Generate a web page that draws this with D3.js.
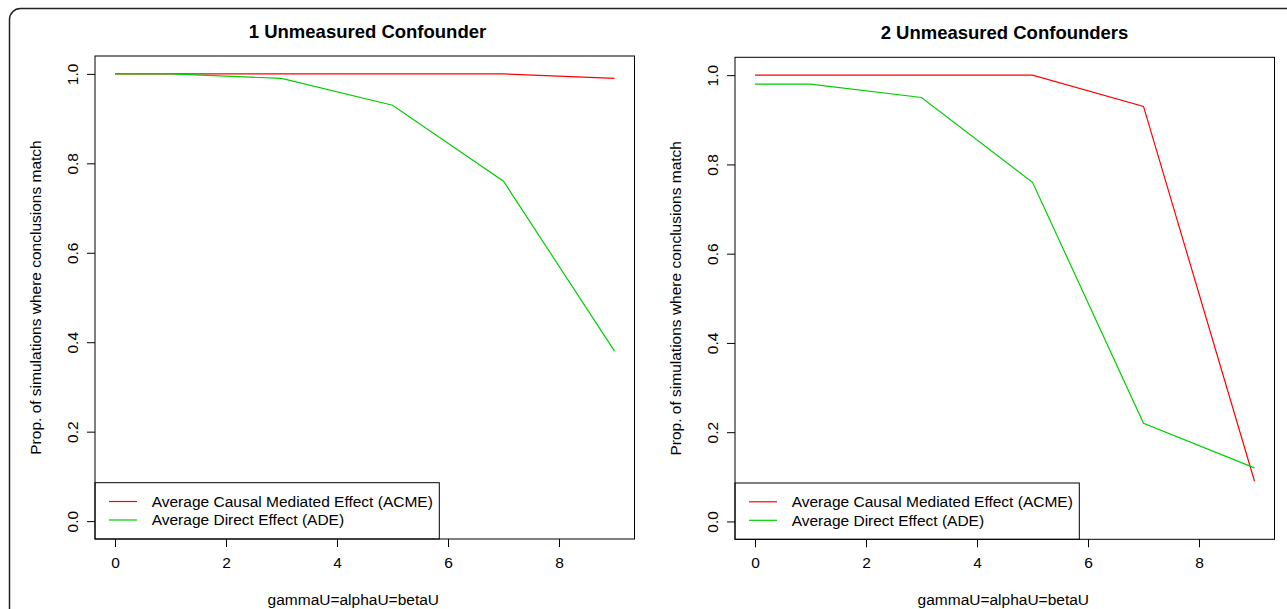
<!DOCTYPE html>
<html>
<head>
<meta charset="utf-8">
<script src="https://cdn.jsdelivr.net/npm/d3@7"></script>
<style>
  html, body { margin: 0; padding: 0; background: #fff; }
  svg { display: block; font-family: "Liberation Sans", Arial, Helvetica, sans-serif; }
</style>
</head>
<body>
<svg id="chart" width="1287" height="609"></svg>
<script>
// ---- data ----
const xValues = [0, 1, 3, 5, 7, 9];
const acmeOne = [1.00, 1.00, 1.00, 1.00, 1.00, 0.99];
const adeOne  = [1.00, 1.00, 0.99, 0.93, 0.76, 0.38];
const acmeTwo = [1.00, 1.00, 1.00, 1.00, 0.93, 0.09];
const adeTwo  = [0.98, 0.98, 0.95, 0.76, 0.22, 0.12];
const xTicks = [0, 2, 4, 6, 8];
const yTicks = [0.0, 0.2, 0.4, 0.6, 0.8, 1.0];
const titles = ["1 Unmeasured Confounder", "2 Unmeasured Confounders"];
const legendLabels = ["Average Causal Mediated Effect (ACME)", "Average Direct Effect (ADE)"];
const xLabel = "gammaU=alphaU=betaU";
const yLabel = "Prop. of simulations where conclusions match";
const seriesColors = ["#ff0000", "#00cd00"];

const FS = 15.5;
const svg = d3.select("#chart");

// outer rounded frame
svg.append("rect")
  .attr("x", 9.5).attr("y", 8.5)
  .attr("width", 1300).attr("height", 640)
  .attr("rx", 11).attr("ry", 11)
  .attr("fill", "none").attr("stroke", "#222").attr("stroke-width", 1.5);

const panels = [
  { x0: 95, x1: 634.5, y0: 56, y1: 539, title: titles[0], titleX: 367.5, titleY: 38, xlabX: 353.3,
    series: [acmeOne, adeOne] },
  { x0: 735, x1: 1274.5, y0: 57.3, y1: 539.3, title: titles[1], titleX: 1004.5, titleY: 39, xlabX: 1003.3,
    series: [acmeTwo, adeTwo] }
];

const fmt = d3.format(".1f");

panels.forEach(p => {
  const g = svg.append("g");
  const x = d3.scaleLinear().domain([-0.36, 9.36]).range([p.x0, p.x1]);
  const y = d3.scaleLinear().domain([-0.04, 1.04]).range([p.y1, p.y0]);

  // series lines
  const line = d3.line().x((d, i) => x(xValues[i])).y(d => y(d));
  p.series.forEach((vals, k) => {
    g.append("path")
      .datum(vals)
      .attr("d", line)
      .attr("fill", "none")
      .attr("stroke", seriesColors[k])
      .attr("stroke-width", 1.2);
  });

  // y axis
  const ya = g.append("g")
    .attr("transform", `translate(${p.x0},0)`)
    .call(d3.axisLeft(y).tickValues(yTicks).tickFormat(fmt).tickSize(8).tickSizeOuter(0));
  ya.select(".domain").remove();
  ya.selectAll(".tick line").attr("stroke", "#000");
  ya.selectAll(".tick text")
    .attr("x", 0).attr("y", -17.5).attr("dy", 0)
    .attr("transform", "rotate(-90)")
    .attr("text-anchor", "middle")
    .attr("fill", "#000")
    .style("font-size", FS + "px")
    .style("font-family", "'Liberation Sans', Arial, sans-serif");

  // x axis
  const xa = g.append("g")
    .attr("transform", `translate(0,${p.y1})`)
    .call(d3.axisBottom(x).tickValues(xTicks).tickFormat(d3.format("d")).tickSize(8).tickSizeOuter(0));
  xa.select(".domain").remove();
  xa.selectAll(".tick line").attr("stroke", "#000");
  xa.selectAll(".tick text")
    .attr("y", 29).attr("dy", 0)
    .attr("fill", "#000")
    .style("font-size", FS + "px")
    .style("font-family", "'Liberation Sans', Arial, sans-serif");

  // legend
  const lg = g.append("g");
  lg.append("rect")
    .attr("x", p.x0).attr("y", p.y1 - 56.3)
    .attr("width", 344.3).attr("height", 56.3)
    .attr("fill", "#fff").attr("stroke", "#000").attr("stroke-width", 1);
  legendLabels.forEach((lab, k) => {
    const cy = p.y1 - 37.5 + k * 18.5;
    lg.append("line")
      .attr("x1", p.x0 + 14).attr("x2", p.x0 + 42)
      .attr("y1", cy).attr("y2", cy)
      .attr("stroke", seriesColors[k]).attr("stroke-width", 1.2);
    lg.append("text")
      .attr("x", p.x0 + 56.7).attr("y", cy + 5.4)
      .attr("font-size", FS).attr("fill", "#000")
      .text(lab);
  });

  // plot box
  g.append("rect")
    .attr("x", p.x0).attr("y", p.y0)
    .attr("width", p.x1 - p.x0).attr("height", p.y1 - p.y0)
    .attr("fill", "none").attr("stroke", "#000").attr("stroke-width", 1);

  // title
  g.append("text")
    .attr("x", p.titleX).attr("y", p.titleY)
    .attr("text-anchor", "middle")
    .attr("font-size", 18.5).attr("font-weight", "bold").attr("fill", "#000")
    .text(p.title);

  // x label
  g.append("text")
    .attr("x", p.xlabX).attr("y", 605)
    .attr("text-anchor", "middle")
    .attr("font-size", FS).attr("fill", "#000")
    .text(xLabel);

  // y label
  g.append("text")
    .attr("transform", `translate(${p.x0 - 54.3},${(p.y0 + p.y1) / 2}) rotate(-90)`)
    .attr("text-anchor", "middle")
    .attr("font-size", FS).attr("fill", "#000")
    .text(yLabel);
});
</script>
</body>
</html>
